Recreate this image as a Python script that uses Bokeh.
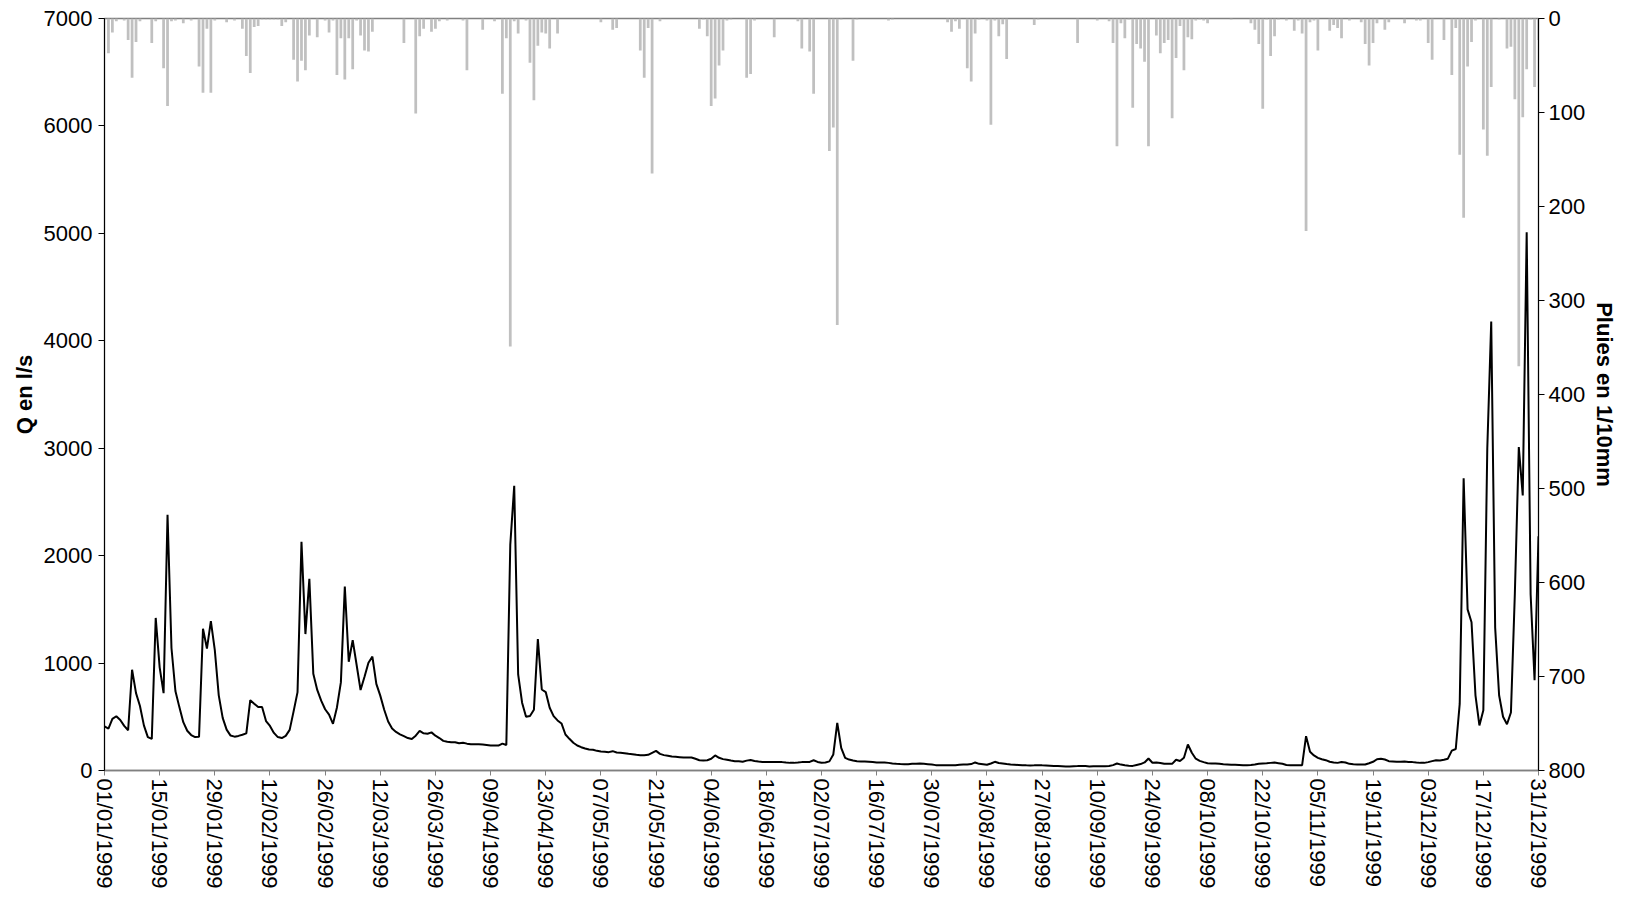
from bokeh.plotting import figure
from bokeh.models import Range1d, LinearAxis, FixedTicker
from bokeh.embed import file_html
from bokeh.resources import INLINE

# jours de l'annee 1999 (0 = 01/01/1999)
jours = list(range(365))

# debit journalier Q en l/s
debit = [
    410, 390, 480, 505, 470, 415, 375, 938, 720, 600,
    420, 311, 294, 1420, 960, 720, 2380, 1140, 740, 590,
    450, 370, 330, 311, 315, 1320, 1135, 1390, 1120, 700,
    490, 380, 325, 315, 322, 333, 346, 655, 622, 590,
    592, 460, 415, 350, 311, 302, 322, 378, 550, 730,
    2130, 1270, 1784, 900, 750, 650, 570, 520, 434, 587,
    820, 1713, 1012, 1214, 982, 749, 872, 1003, 1060, 806,
    697, 565, 456, 390, 359, 337, 320, 302, 294, 324,
    368, 346, 342, 355, 324, 302, 276, 267, 263, 263,
    254, 259, 250, 245, 245, 245, 241, 237, 232, 232,
    232, 250, 237, 2100, 2650, 894, 631, 500, 508, 565,
    1223, 754, 730, 584, 506, 466, 438, 335, 295, 258,
    233, 217, 205, 196, 193, 183, 177, 174, 171, 180,
    168, 165, 161, 155, 152, 146, 143, 143, 146, 165,
    183, 155, 143, 137, 130, 127, 124, 121, 121, 121,
    109, 96, 93, 96, 109, 140, 118, 106, 100, 93,
    87, 86, 82, 92, 97, 88, 83, 80, 78, 78,
    78, 80, 78, 74, 71, 71, 74, 78, 80, 80,
    95, 80, 72, 74, 85, 150, 444, 211, 118, 102,
    93, 87, 84, 84, 81, 78, 75, 75, 74, 71,
    66, 62, 60, 59, 59, 62, 62, 65, 62, 59,
    55, 50, 50, 50, 50, 50, 50, 53, 56, 56,
    60, 75, 62, 58, 53, 65, 81, 70, 65, 60,
    56, 54, 52, 50, 48, 47, 48, 50, 48, 47,
    45, 43, 41, 39, 37, 38, 40, 41, 43, 41,
    38, 40, 40, 40, 40, 41, 50, 65, 55, 48,
    45, 43, 52, 60, 75, 112, 72, 74, 70, 62,
    62, 62, 100, 88, 118, 242, 165, 110, 90, 78,
    68, 66, 65, 62, 58, 56, 54, 53, 52, 50,
    50, 52, 55, 62, 66, 68, 71, 74, 68, 62,
    52, 50, 50, 50, 50, 320, 174, 140, 118, 105,
    96, 82, 75, 71, 80, 75, 62, 58, 56, 56,
    56, 68, 81, 105, 110, 102, 87, 84, 81, 82,
    84, 80, 78, 74, 71, 71, 78, 87, 96, 94,
    100, 110, 185, 200, 620, 2720, 1500, 1380, 700, 420,
    560, 3000, 4180, 1330, 700, 500, 430, 540, 1650, 3010,
    2560, 5010, 1640, 840, 2180,
]

# pluies journalieres en 1/10mm
pluie = [
    0, 37, 15, 3, 0, 2, 23, 63, 25, 3,
    0, 0, 26, 3, 0, 53, 93, 3, 2, 0,
    5, 0, 2, 0, 51, 79, 11, 79, 2, 0,
    0, 4, 0, 2, 0, 11, 40, 58, 9, 8,
    1, 1, 1, 1, 1, 8, 4, 0, 44, 67,
    45, 55, 18, 0, 20, 0, 2, 15, 2, 60,
    21, 65, 21, 54, 2, 18, 34, 35, 14, 0,
    0, 0, 0, 0, 0, 0, 26, 0, 0, 101,
    19, 11, 0, 14, 11, 3, 0, 2, 0, 0,
    0, 2, 55, 0, 0, 0, 12, 0, 0, 3,
    0, 80, 21, 349, 3, 16, 0, 2, 47, 87,
    29, 15, 16, 32, 0, 16, 0, 0, 0, 0,
    0, 0, 0, 0, 0, 0, 4, 0, 0, 12,
    10, 0, 0, 0, 0, 0, 34, 63, 10, 165,
    0, 3, 0, 0, 0, 0, 0, 0, 0, 0,
    0, 11, 1, 19, 93, 85, 50, 34, 2, 1,
    0, 0, 0, 63, 59, 2, 0, 0, 0, 0,
    20, 0, 0, 0, 0, 0, 3, 32, 0, 35,
    80, 0, 0, 0, 141, 116, 326, 1, 0, 0,
    45, 1, 0, 0, 0, 0, 0, 0, 0, 2,
    1, 0, 0, 0, 0, 0, 0, 0, 0, 0,
    0, 0, 0, 0, 4, 14, 3, 11, 0, 53,
    67, 16, 1, 0, 2, 113, 2, 19, 6, 43,
    0, 0, 0, 0, 0, 0, 7, 1, 0, 0,
    0, 0, 0, 0, 0, 0, 0, 26, 0, 0,
    0, 0, 2, 0, 0, 3, 26, 136, 5, 21,
    1, 95, 27, 32, 46, 136, 0, 18, 37, 26,
    23, 106, 42, 8, 55, 20, 22, 2, 1, 2,
    5, 0, 0, 0, 0, 0, 1, 0, 0, 0,
    0, 5, 12, 27, 96, 1, 40, 19, 1, 0,
    2, 0, 13, 2, 16, 226, 4, 2, 34, 0,
    0, 13, 7, 10, 21, 0, 2, 0, 0, 4,
    27, 50, 26, 5, 0, 12, 4, 0, 0, 0,
    5, 0, 0, 2, 2, 0, 26, 44, 0, 0,
    23, 0, 60, 10, 145, 212, 51, 25, 2, 0,
    118, 146, 73, 0, 1, 0, 32, 30, 86, 370,
    105, 54, 1, 73, 23,
]

# graduations de l'axe des dates
date_ticks = [0, 14, 28, 42, 56, 70, 84, 98, 112, 126, 140, 154, 168, 182,
              196, 210, 224, 238, 252, 266, 280, 294, 308, 322, 336, 350, 364]
date_labels = ["01/01/1999", "15/01/1999", "29/01/1999", "12/02/1999",
               "26/02/1999", "12/03/1999", "26/03/1999", "09/04/1999",
               "23/04/1999", "07/05/1999", "21/05/1999", "04/06/1999",
               "18/06/1999", "02/07/1999", "16/07/1999", "30/07/1999",
               "13/08/1999", "27/08/1999", "10/09/1999", "24/09/1999",
               "08/10/1999", "22/10/1999", "05/11/1999", "19/11/1999",
               "03/12/1999", "17/12/1999", "31/12/1999"]
q_ticks = [0, 1000, 2000, 3000, 4000, 5000, 6000, 7000]
pluie_ticks = [0, 100, 200, 300, 400, 500, 600, 700, 800]

FONT = "Liberation Sans"
FSIZE = "22px"

p = figure(frame_width=1434, frame_height=752, output_backend="svg",
           toolbar_location=None,
           x_range=Range1d(0, 364), y_range=Range1d(0, 7000),
           min_border_left=104, min_border_right=83, min_border_top=18,
           min_border_bottom=123)
p.extra_y_ranges = {"pluie": Range1d(start=800, end=0)}

p.xgrid.visible = False
p.ygrid.visible = False
p.outline_line_color = "#808080"
p.outline_line_width = 1.5
p.background_fill_color = "white"
p.border_fill_color = "white"

# barres de pluie pendues depuis le haut
p.vbar(x=jours, top=0, bottom=pluie, width=0.7, y_range_name="pluie",
       fill_color="#C0C0C0", line_color=None)

# hydrogramme
p.line(jours, debit, line_color="black", line_width=2)

# axe gauche
yl = p.yaxis[0]
yl.ticker = FixedTicker(ticks=q_ticks)
yl.axis_label = "Q en l/s"
yl.axis_label_text_font = FONT
yl.axis_label_text_font_size = FSIZE
yl.axis_label_text_font_style = "bold"
yl.axis_label_text_color = "black"
yl.axis_label_standoff = 4
yl.major_label_text_font = FONT
yl.major_label_text_font_size = FSIZE
yl.major_label_text_color = "black"
yl.axis_line_color = "black"
yl.major_tick_line_color = "black"
yl.major_tick_in = 0
yl.major_tick_out = 6
yl.minor_tick_line_color = None
yl.major_label_standoff = 6

# axe droit (pluies, inverse)
yr = LinearAxis(y_range_name="pluie", axis_label="Pluies en 1/10mm")
yr.ticker = FixedTicker(ticks=pluie_ticks)
yr.axis_label_text_font = FONT
yr.axis_label_text_font_size = FSIZE
yr.axis_label_text_font_style = "bold"
yr.axis_label_text_color = "black"
yr.axis_label_standoff = 4
yr.major_label_text_font = FONT
yr.major_label_text_font_size = FSIZE
yr.major_label_text_color = "black"
yr.axis_line_color = "black"
yr.major_tick_line_color = "black"
yr.major_tick_in = 0
yr.major_tick_out = 6
yr.minor_tick_line_color = None
yr.major_label_standoff = 4
p.add_layout(yr, "right")

# axe des dates
xa = p.xaxis[0]
xa.ticker = FixedTicker(ticks=date_ticks)
xa.major_label_overrides = {t: s for t, s in zip(date_ticks, date_labels)}
xa.major_label_orientation = "vertical"
xa.major_label_text_font = FONT
xa.major_label_text_font_size = FSIZE
xa.major_label_text_color = "black"
xa.axis_line_color = "#808080"
xa.axis_line_width = 1.5
xa.major_tick_line_color = "#808080"
xa.major_tick_in = 0
xa.major_tick_out = 5
xa.minor_tick_line_color = None
xa.major_label_standoff = 3

open("out.html", "w").write(file_html(p, INLINE))
